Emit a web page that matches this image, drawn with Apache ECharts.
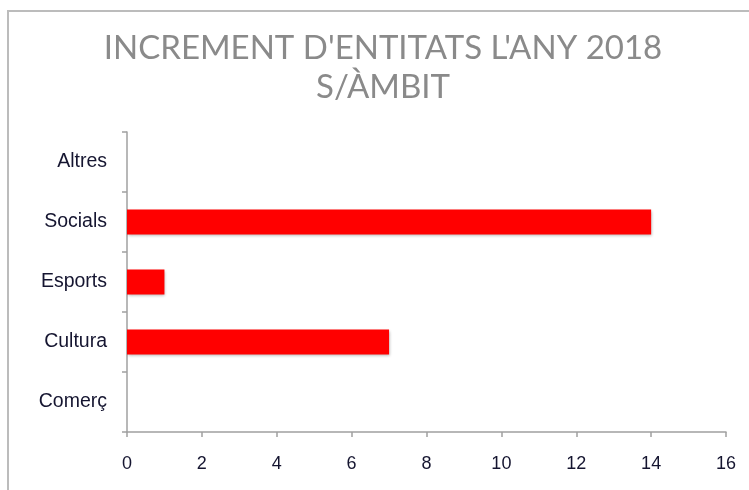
<!DOCTYPE html>
<html>
<head>
<meta charset="utf-8">
<script src="https://cdn.jsdelivr.net/npm/echarts@6/dist/echarts.min.js"></script>
<style>
  html, body { margin: 0; padding: 0; background: #fff; }
  #chart { width: 749px; height: 490px; }
</style>
</head>
<body>
<div id="chart"></div>
<script>
// categories (bottom to top) and values
var ambits = ['Comerç', 'Cultura', 'Esports', 'Socials', 'Altres'];
var increment = [0, 7, 1, 14, 0];
var titleLines = ["INCREMENT D'ENTITATS L'ANY 2018", 'S/ÀMBIT'];

var chart = echarts.init(document.getElementById('chart'));
var option = {
    animation: false,
    backgroundColor: '#fff',
    // marc gris de la imatge original
    graphic: [{
        type: 'rect',
        shape: { x: 8, y: 11, width: 800, height: 600 },
        style: { fill: 'none', stroke: '#bcbcbc', lineWidth: 2 }
    }],
    title: {
        text: titleLines.join('\n'),
        left: 378,
        textAlign: 'center',
        top: 24,
        textStyle: {
            fontFamily: 'Lato',
            fontWeight: 'normal',
            fontSize: 33,
            lineHeight: 39,
            color: '#8a8a8a'
        }
    },
    grid: { left: 127, right: 23, top: 132, bottom: 58 },
    xAxis: {
        type: 'value',
        min: 0,
        max: 16,
        interval: 2,
        splitLine: { show: false },
        axisLine: { show: true, lineStyle: { color: '#a0a0a0', width: 1.5 } },
        axisTick: { show: true, length: 5, lineStyle: { color: '#a0a0a0', width: 1.5 } },
        axisLabel: { margin: 23, fontFamily: 'Liberation Sans', fontSize: 18, color: '#151530' }
    },
    yAxis: {
        type: 'category',
        data: ambits,
        axisLine: { show: true, lineStyle: { color: '#a0a0a0', width: 1.5 } },
        axisTick: { show: true, length: 5, lineStyle: { color: '#a0a0a0', width: 1.5 } },
        axisLabel: { margin: 20, fontFamily: 'Liberation Sans', fontSize: 19.5, color: '#151530' }
    },
    series: [{
        type: 'bar',
        data: increment,
        barWidth: 25,
        itemStyle: {
            color: '#ff0000',
            shadowColor: 'rgba(0,0,0,0.3)',
            shadowBlur: 3,
            shadowOffsetX: 1,
            shadowOffsetY: 1
        }
    }]
};
chart.setOption(option);
</script>
</body>
</html>
